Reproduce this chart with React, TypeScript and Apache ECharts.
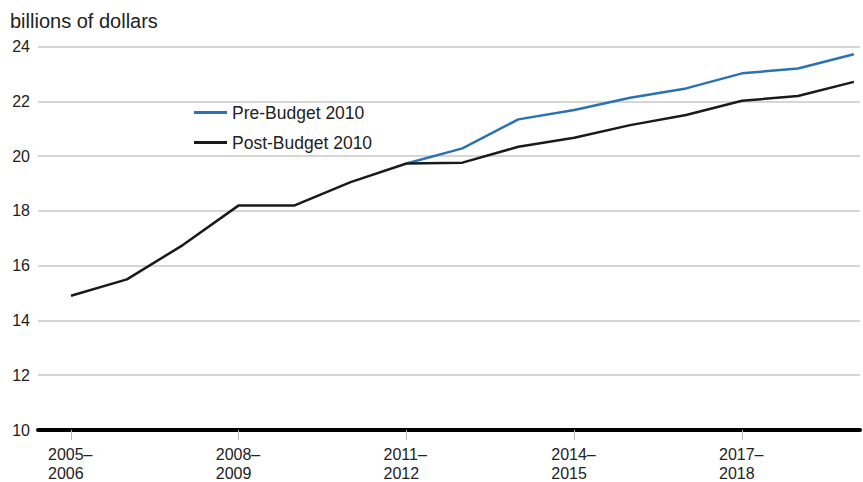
import React, { useEffect, useRef } from "react";
import * as echarts from "echarts";

const fiscalYears = [
  "2005–2006", "2006–2007", "2007–2008", "2008–2009", "2009–2010",
  "2010–2011", "2011–2012", "2012–2013", "2013–2014", "2014–2015",
  "2015–2016", "2016–2017", "2017–2018", "2018–2019", "2019–2020",
];
const labelledIndexes = [0, 3, 6, 9, 12];
const preBudget = [null, null, null, null, null, null, 19.73, 20.28, 21.34, 21.68, 22.13, 22.47, 23.02, 23.2, 23.72];
const postBudget = [14.9, 15.5, 16.75, 18.2, 18.2, 19.05, 19.73, 19.76, 20.34, 20.67, 21.13, 21.5, 22.02, 22.19, 22.71];
const yTicks = [10, 12, 14, 16, 18, 20, 22, 24];
const seriesNames = ["Pre-Budget 2010", "Post-Budget 2010"];
const unitLabel = "billions of dollars";

const FONT = "'Liberation Sans', Arial, Helvetica, sans-serif";
const TEXT = "#222";

export default function App() {
  const ref = useRef<HTMLDivElement>(null);
  useEffect(() => {
    if (!ref.current) return;
    const chart = echarts.init(ref.current, undefined, { renderer: "svg" });
    const toPairs = (arr: (number | null)[]) =>
      arr.map((v, i) => [i, v]).filter((p) => p[1] !== null);
    chart.setOption({
      animation: false,
      backgroundColor: "#fff",
      textStyle: { fontFamily: FONT },
      title: {
        text: unitLabel,
        left: 10,
        top: 10.5,
        padding: 0,
        textStyle: { fontSize: 20, fontWeight: "normal", color: TEXT, fontFamily: FONT },
      },
      legend: {
        orient: "vertical",
        left: 194,
        top: 102.5,
        padding: 0,
        itemWidth: 33,
        itemHeight: 3,
        itemGap: 10,
        icon: "rect",
        data: seriesNames,
        textStyle: { fontSize: 17.5, color: TEXT, fontFamily: FONT, lineHeight: 20 },
      },
      grid: {
        left: 38,
        right: 3,
        top: 46.5,
        bottom: 52,
        containLabel: false,
        outerBoundsMode: "none",
      },
      xAxis: {
        type: "value",
        min: -0.59,
        max: 14.11,
        splitLine: { show: false },
        axisLine: { show: true, onZero: false, lineStyle: { color: "#000", width: 4 } },
        axisTick: {
          show: true,
          customValues: labelledIndexes,
          length: 10,
          lineStyle: { color: "#bbb", width: 1 },
        },
        axisLabel: {
          customValues: labelledIndexes,
          formatter: (v: number) => {
            const s = fiscalYears[Math.round(v)] || "";
            const [a, b] = s.split("–");
            return `{t|${a}–}\n{t|${b}}`;
          },
          rich: {
            t: { width: 46, align: "left", fontSize: 16, lineHeight: 19, color: TEXT, fontFamily: FONT },
          },
          fontSize: 16,
          lineHeight: 19,
          color: TEXT,
          margin: 15,
          fontFamily: FONT,
        },
      },
      yAxis: {
        type: "value",
        min: yTicks[0],
        max: yTicks[yTicks.length - 1],
        interval: 2,
        axisLine: { show: false },
        axisTick: { show: false },
        axisLabel: { fontSize: 16, color: TEXT, margin: 8, fontFamily: FONT },
        splitLine: { lineStyle: { color: "#c8c8c8", width: 1.5 } },
      },
      series: [
        {
          name: seriesNames[0],
          type: "line",
          data: toPairs(preBudget),
          showSymbol: false,
          symbol: "none",
          lineStyle: { color: "#2b72b5", width: 2.5 },
          itemStyle: { color: "#2b72b5" },
          z: 2,
        },
        {
          name: seriesNames[1],
          type: "line",
          data: toPairs(postBudget),
          showSymbol: false,
          symbol: "none",
          lineStyle: { color: "#1a1a1a", width: 2.5 },
          itemStyle: { color: "#1a1a1a" },
          z: 3,
        },
      ],
    });
    return () => chart.dispose();
  }, []);
  return (
    <div
      ref={ref}
      style={{ position: "fixed", left: 0, top: 0, width: 863, height: 482 }}
    />
  );
}
